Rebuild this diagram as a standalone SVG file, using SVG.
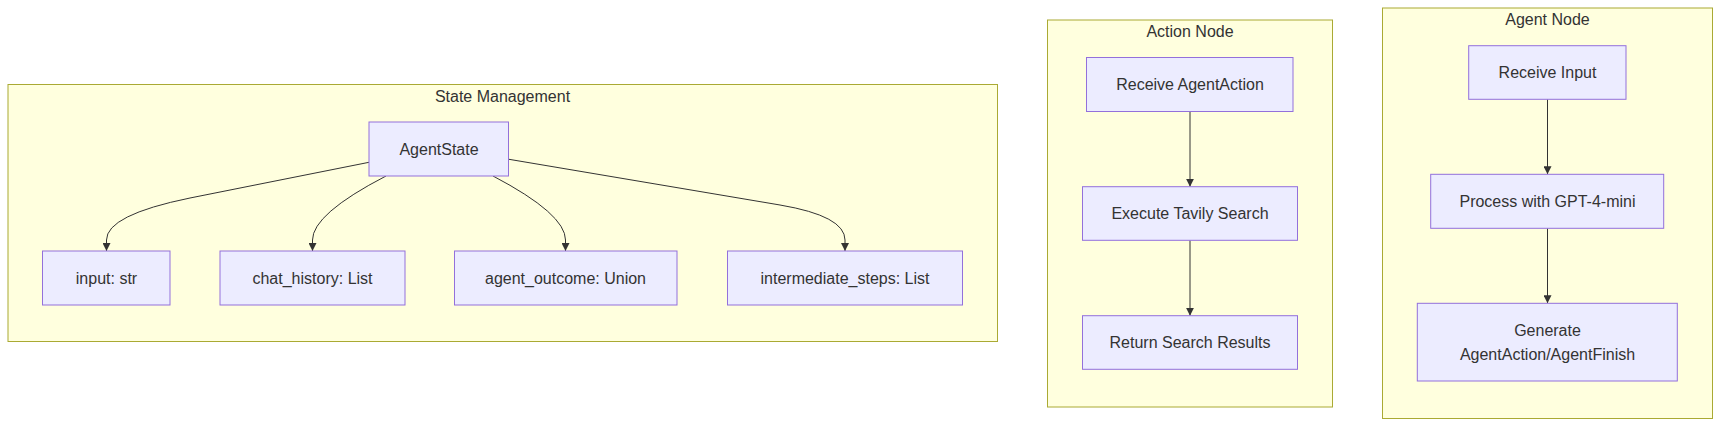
<svg xmlns="http://www.w3.org/2000/svg" width="1720" height="427" viewBox="0 0 1720 427">
<style>
.cluster rect{fill:#ffffde;stroke:#aaaa33;stroke-width:1px;}
.node rect{fill:#ECECFF;stroke:#9370DB;stroke-width:1px;}
text{font-family:"trebuchet ms","Liberation Sans",Arial,sans-serif;font-size:16px;fill:#333333;text-anchor:middle;}
.edge{fill:none;stroke:#333333;stroke-width:1px;}
</style>
<defs>
<marker id="arrow" viewBox="0 0 10 10" refX="10" refY="5" markerWidth="8" markerHeight="8" markerUnits="userSpaceOnUse" orient="auto">
<path d="M0,0 L10,5 L0,10 z" fill="#333333"/>
</marker>
</defs>
<rect width="1720" height="427" fill="#ffffff"/>
<g id="cluster-state" class="cluster">
<rect x="8" y="84.5" width="989.5" height="257"/>
<text x="502.5" y="101.5">State Management</text>
</g>
<g id="cluster-action" class="cluster">
<rect x="1047.5" y="20" width="285" height="387"/>
<text x="1190" y="36.5">Action Node</text>
</g>
<g id="cluster-agent" class="cluster">
<rect x="1382.5" y="8" width="330" height="410.5"/>
<text x="1547.5" y="25">Agent Node</text>
</g>
<g id="connectors">
<path class="edge" d="M369,162.3 L190,198 Q106.5,215 106.5,240 L106.5,251" marker-end="url(#arrow)"/>
<path class="edge" d="M386,176 Q312.5,214 312.5,240 L312.5,251" marker-end="url(#arrow)"/>
<path class="edge" d="M493,176 Q565.5,214 565.5,240 L565.5,251" marker-end="url(#arrow)"/>
<path class="edge" d="M509,159.3 L780,205 Q845,216 845,240 L845,251" marker-end="url(#arrow)"/>
<path class="edge" d="M1190,111.3 L1190,186.7" marker-end="url(#arrow)"/>
<path class="edge" d="M1190,240.3 L1190,315.7" marker-end="url(#arrow)"/>
<path class="edge" d="M1547.5,99.3 L1547.5,174.3" marker-end="url(#arrow)"/>
<path class="edge" d="M1547.5,228.3 L1547.5,303.3" marker-end="url(#arrow)"/>
</g>
<g id="node-agentstate" class="node">
<rect x="369" y="122" width="139.5" height="54"/>
<text x="439" y="154.5">AgentState</text>
</g>
<g id="node-input" class="node">
<rect x="42.5" y="251" width="127.5" height="54"/>
<text x="106.5" y="283.5">input: str</text>
</g>
<g id="node-chat" class="node">
<rect x="220" y="251" width="185" height="54"/>
<text x="312.5" y="283.5">chat_history: List</text>
</g>
<g id="node-outcome" class="node">
<rect x="454.5" y="251" width="222.5" height="54"/>
<text x="565.5" y="283.5">agent_outcome: Union</text>
</g>
<g id="node-steps" class="node">
<rect x="727.5" y="251" width="235" height="54"/>
<text x="845" y="283.5">intermediate_steps: List</text>
</g>
<g id="node-receive-action" class="node">
<rect x="1086.5" y="57.5" width="206.5" height="54"/>
<text x="1190" y="90">Receive AgentAction</text>
</g>
<g id="node-execute" class="node">
<rect x="1082.5" y="186.7" width="215" height="53.6"/>
<text x="1190" y="219">Execute Tavily Search</text>
</g>
<g id="node-return" class="node">
<rect x="1082.5" y="315.7" width="215" height="53.6"/>
<text x="1190" y="348">Return Search Results</text>
</g>
<g id="node-receive-input" class="node">
<rect x="1468.7" y="45.7" width="157.3" height="53.6"/>
<text x="1547.5" y="78">Receive Input</text>
</g>
<g id="node-process" class="node">
<rect x="1430.7" y="174.3" width="233" height="54"/>
<text x="1547.5" y="206.8">Process with GPT-4-mini</text>
</g>
<g id="node-generate" class="node">
<rect x="1417.3" y="303.3" width="260" height="77.7"/>
<text x="1547.5" y="335.5">Generate</text>
<text x="1547.5" y="359.5">AgentAction/AgentFinish</text>
</g>
</svg>
